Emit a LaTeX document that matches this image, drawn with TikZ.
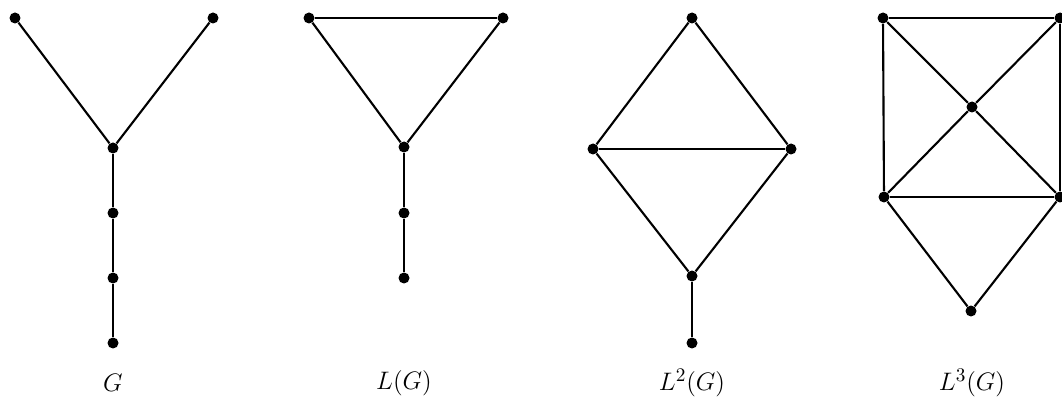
\documentclass[tikz,border=0pt]{standalone}
\usepackage{amsmath,amssymb}
\usepackage{tikz}
\usetikzlibrary{positioning}

\begin{document}
\begin{tikzpicture}[
  x=0.02cm, y=-0.02cm,
  vtx/.style={circle, fill=black, inner sep=0pt, minimum size=2.2mm},
  edge/.style={line width=1.2pt},
  gname/.style={font=\fontsize{15}{18}\selectfont, inner sep=0pt}
]
\useasboundingbox (0,0) rectangle (1062,405);
% ----- G -----
\node[vtx] (g1) at (15,18)   {};
\node[vtx] (g2) at (213,18)  {};
\node[vtx] (g3) at (113,148) {};
\node[vtx] (g4) at (113,213) {};
\node[vtx] (g5) at (113,278) {};
\node[vtx] (g6) at (113,343) {};
\foreach \a/\b in {g1/g3, g2/g3, g3/g4, g4/g5, g5/g6}{\draw[edge] (\a) -- (\b);}
\node[gname] (lg) at (113,383) {$G$};
% ----- L(G) -----
\node[vtx] (l1) at (309,18)  {};
\node[vtx] (l2) at (503,18)  {};
\node[vtx] (l3) at (404,147) {};
\node[vtx] (l4) at (404,213) {};
\node[vtx] (l5) at (404,278) {};
\foreach \a/\b in {l1/l2, l1/l3, l2/l3, l3/l4, l4/l5}{\draw[edge] (\a) -- (\b);}
\node[gname] (ll) at (404,383) {$L(G)$};
% ----- L^2(G) -----
\node[vtx] (m1) at (692,18)  {};
\node[vtx] (m2) at (593,149) {};
\node[vtx] (m3) at (791,149) {};
\node[vtx] (m4) at (692,276) {};
\node[vtx] (m5) at (692,343) {};
\foreach \a/\b in {m1/m2, m1/m3, m2/m3, m2/m4, m3/m4, m4/m5}{\draw[edge] (\a) -- (\b);}
\node[gname] (lm) at (692,383) {$L^2(G)$};
% ----- L^3(G) -----
\node[vtx] (n1) at (883,18)   {};
\node[vtx] (n2) at (1060,18)  {};
\node[vtx] (n3) at (972,107)  {};
\node[vtx] (n4) at (884,197)  {};
\node[vtx] (n5) at (1060,197) {};
\node[vtx] (n6) at (971,311)  {};
\foreach \a/\b in {n1/n2, n1/n4, n2/n5, n1/n3, n2/n3, n3/n4, n3/n5, n4/n5, n4/n6, n5/n6}{\draw[edge] (\a) -- (\b);}
\node[gname] (ln) at (972,383) {$L^3(G)$};
\end{tikzpicture}
\end{document}
